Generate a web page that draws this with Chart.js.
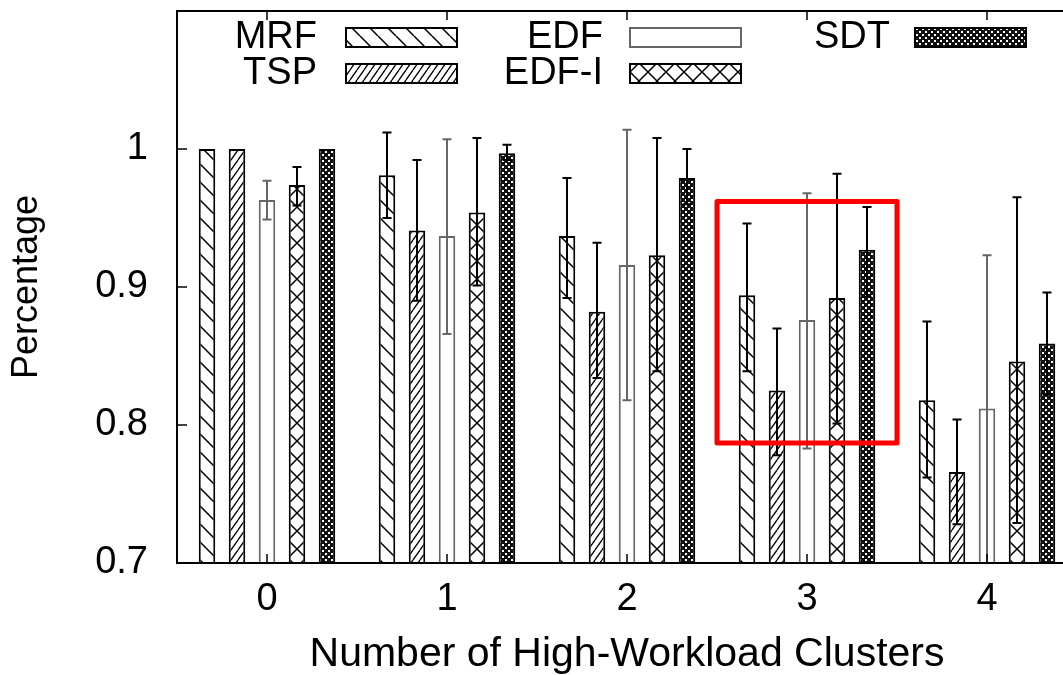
<!DOCTYPE html>
<html>
<head>
<meta charset="utf-8">
<script src="https://cdn.jsdelivr.net/npm/chart.js@4.4.1/dist/chart.umd.min.js"></script>
<style>
  html, body { margin: 0; padding: 0; overflow: hidden; background: #fff; }
  #wrap { width: 1100px; height: 675px; }
</style>
</head>
<body>
<div id="wrap"><canvas id="chart" width="1100" height="675"></canvas></div>
<script>
// Data
const categories = ['0', '1', '2', '3', '4'];
const seriesNames = ['MRF', 'TSP', 'EDF', 'EDF-I', 'SDT'];

const mrf     = [1.000, 0.981, 0.937, 0.894, 0.818];
const mrfLow  = [null,  0.950, 0.892, 0.839, 0.762];
const mrfHigh = [null,  1.012, 0.979, 0.946, 0.875];

const tsp     = [1.000, 0.941, 0.882, 0.825, 0.766];
const tspLow  = [null,  0.890, 0.834, 0.778, 0.728];
const tspHigh = [null,  0.992, 0.932, 0.870, 0.804];

const edf     = [0.963, 0.937, 0.916, 0.876, 0.812];
const edfLow  = [0.949, 0.866, 0.818, 0.783, 0.700];
const edfHigh = [0.977, 1.007, 1.014, 0.968, 0.923];

const edfI     = [0.974, 0.954, 0.923, 0.892, 0.846];
const edfILow  = [0.959, 0.901, 0.839, 0.801, 0.729];
const edfIHigh = [0.987, 1.008, 1.008, 0.982, 0.965];

const sdt     = [1.000, 0.997, 0.979, 0.927, 0.859];
const sdtLow  = [null,  0.992, 0.960, 0.893, 0.822];
const sdtHigh = [null,  1.003, 1.000, 0.958, 0.896];

const yTicks = [0.7, 0.8, 0.9, 1.0];
const yTickLabels = ['0.7', '0.8', '0.9', '1'];

// highlighted region (category units / y units)
const boxX = [2.5, 3.5];
const boxY = [0.787, 0.962];

const FONT = '"Liberation Sans", Arial, Helvetica, sans-serif';

// fill patterns
function hatch(w, h, dirs, lw) {
  const c = document.createElement('canvas');
  c.width = w; c.height = h;
  const g = c.getContext('2d');
  g.fillStyle = '#fff';
  g.fillRect(0, 0, w, h);
  g.strokeStyle = '#000';
  g.lineWidth = lw;
  g.beginPath();
  for (const o of [-w, 0, w]) {
    if (dirs.includes('\\')) { g.moveTo(o, 0); g.lineTo(o + w, h); }
    if (dirs.includes('/'))  { g.moveTo(o, h); g.lineTo(o + w, 0); }
  }
  g.stroke();
  return g.createPattern(c, 'repeat');
}

function checker() {
  const c = document.createElement('canvas');
  c.width = 6; c.height = 6;
  const g = c.getContext('2d');
  g.fillStyle = '#111';
  g.fillRect(0, 0, 6, 6);
  g.fillStyle = '#fff';
  g.fillRect(1, 1, 2, 2);
  g.fillRect(4, 4, 2, 2);
  return g.createPattern(c, 'repeat');
}

const fills = [
  hatch(18, 18, '\\', 1.5),
  hatch(7, 10, '/', 1.3),
  '#fff',
  hatch(18, 18, '\\/', 1.5),
  checker()
];
const borders = ['#000', '#000', '#666', '#000', '#000'];
const values = [mrf, tsp, edf, edfI, sdt];
const lows = [mrfLow, tspLow, edfLow, edfILow, sdtLow];
const highs = [mrfHigh, tspHigh, edfHigh, edfIHigh, sdtHigh];

const datasets = seriesNames.map((name, i) => ({
  label: name,
  data: values[i],
  backgroundColor: fills[i],
  borderColor: borders[i],
  borderWidth: 2,
  categoryPercentage: 0.8333,
  barPercentage: 0.55
}));

// error bars, frame, inner ticks, legend and highlight box
const extras = {
  id: 'extras',
  afterDatasetsDraw(chart) {
    const {ctx, chartArea: a, scales: {x, y}} = chart;
    ctx.save();
    ctx.beginPath();
    ctx.rect(a.left, a.top, a.right - a.left, a.bottom - a.top);
    ctx.clip();
    datasets.forEach((ds, i) => {
      const meta = chart.getDatasetMeta(i);
      ctx.strokeStyle = borders[i];
      ctx.lineWidth = 2;
      meta.data.forEach((bar, j) => {
        if (lows[i][j] == null) return;
        const yl = y.getPixelForValue(lows[i][j]);
        const yh = y.getPixelForValue(highs[i][j]);
        ctx.beginPath();
        ctx.moveTo(bar.x, yl); ctx.lineTo(bar.x, yh);
        ctx.moveTo(bar.x - 4.5, yl); ctx.lineTo(bar.x + 4.5, yl);
        ctx.moveTo(bar.x - 4.5, yh); ctx.lineTo(bar.x + 4.5, yh);
        ctx.stroke();
      });
    });
    ctx.restore();

    // frame and inward ticks
    ctx.save();
    ctx.strokeStyle = '#000';
    ctx.lineWidth = 1.5;
    ctx.beginPath();
    yTicks.forEach(v => {
      const py = y.getPixelForValue(v);
      ctx.moveTo(a.left, py); ctx.lineTo(a.left + 10, py);
      ctx.moveTo(a.right, py); ctx.lineTo(a.right - 10, py);
    });
    categories.forEach((c, i) => {
      const px = x.getPixelForValue(i);
      ctx.moveTo(px, a.top); ctx.lineTo(px, a.top + 9);
      ctx.moveTo(px, a.bottom); ctx.lineTo(px, a.bottom - 9);
    });
    ctx.stroke();
    ctx.lineWidth = 2;
    ctx.strokeRect(a.left, a.top, a.right - a.left, a.bottom - a.top);
    ctx.restore();

    // legend (two rows, right-aligned labels then swatch)
    const slots = [[317, 346, 37], [317, 346, 73], [603, 630, 37], [603, 630, 73], [890, 915, 37]];
    ctx.save();
    ctx.font = '38px ' + FONT;
    ctx.textAlign = 'right';
    ctx.textBaseline = 'middle';
    seriesNames.forEach((name, i) => {
      const [tx, sx, cy] = slots[i];
      ctx.fillStyle = '#000';
      ctx.fillText(name, tx, cy + 1);
      ctx.fillStyle = fills[i];
      ctx.fillRect(sx, cy - 9, 111, 19);
      ctx.strokeStyle = borders[i];
      ctx.lineWidth = 2;
      ctx.strokeRect(sx, cy - 9, 111, 19);
    });
    ctx.restore();

    // red highlight box
    const step = x.getPixelForValue(1) - x.getPixelForValue(0);
    const bx0 = x.getPixelForValue(3) - step * (3 - boxX[0]);
    const bx1 = x.getPixelForValue(3) + step * (boxX[1] - 3);
    const by0 = y.getPixelForValue(boxY[1]);
    const by1 = y.getPixelForValue(boxY[0]);
    ctx.save();
    ctx.strokeStyle = '#ff0000';
    ctx.lineWidth = 5;
    ctx.lineJoin = 'round';
    ctx.strokeRect(bx0, by0, bx1 - bx0, by1 - by0);
    ctx.restore();
  }
};

new Chart(document.getElementById('chart'), {
  type: 'bar',
  data: { labels: categories, datasets },
  options: {
    responsive: false,
    animation: false,
    layout: { padding: { top: 11, right: 23, left: 0, bottom: 0 } },
    plugins: { legend: { display: false }, tooltip: { enabled: false } },
    scales: {
      x: {
        offset: true,
        grid: { display: false, drawTicks: false },
        border: { display: false },
        ticks: { color: '#000', font: { family: FONT, size: 38 }, padding: 14 },
        title: {
          display: true, text: 'Number of High-Workload Clusters', color: '#000',
          font: { family: FONT, size: 41, lineHeight: 1 }, padding: { top: 0, bottom: 0 }
        },
        afterFit: s => { s.height = 112; s.paddingLeft = 0; s.paddingRight = 0; }
      },
      y: {
        min: 0.7, max: 1.1,
        afterBuildTicks: s => { s.ticks = yTicks.map(v => ({ value: v })); },
        grid: { display: false, drawTicks: false },
        border: { display: false },
        ticks: {
          color: '#000', font: { family: FONT, size: 38 }, padding: 29,
          callback: (v, i) => yTickLabels[i]
        },
        title: {
          display: true, text: 'Percentage', color: '#000',
          font: { family: FONT, size: 36 }, padding: { top: 5, bottom: 0 }
        },
        afterFit: s => { s.width = 177; s.paddingTop = 0; s.paddingBottom = 0; }
      }
    }
  },
  plugins: [extras]
});
</script>
</body>
</html>
